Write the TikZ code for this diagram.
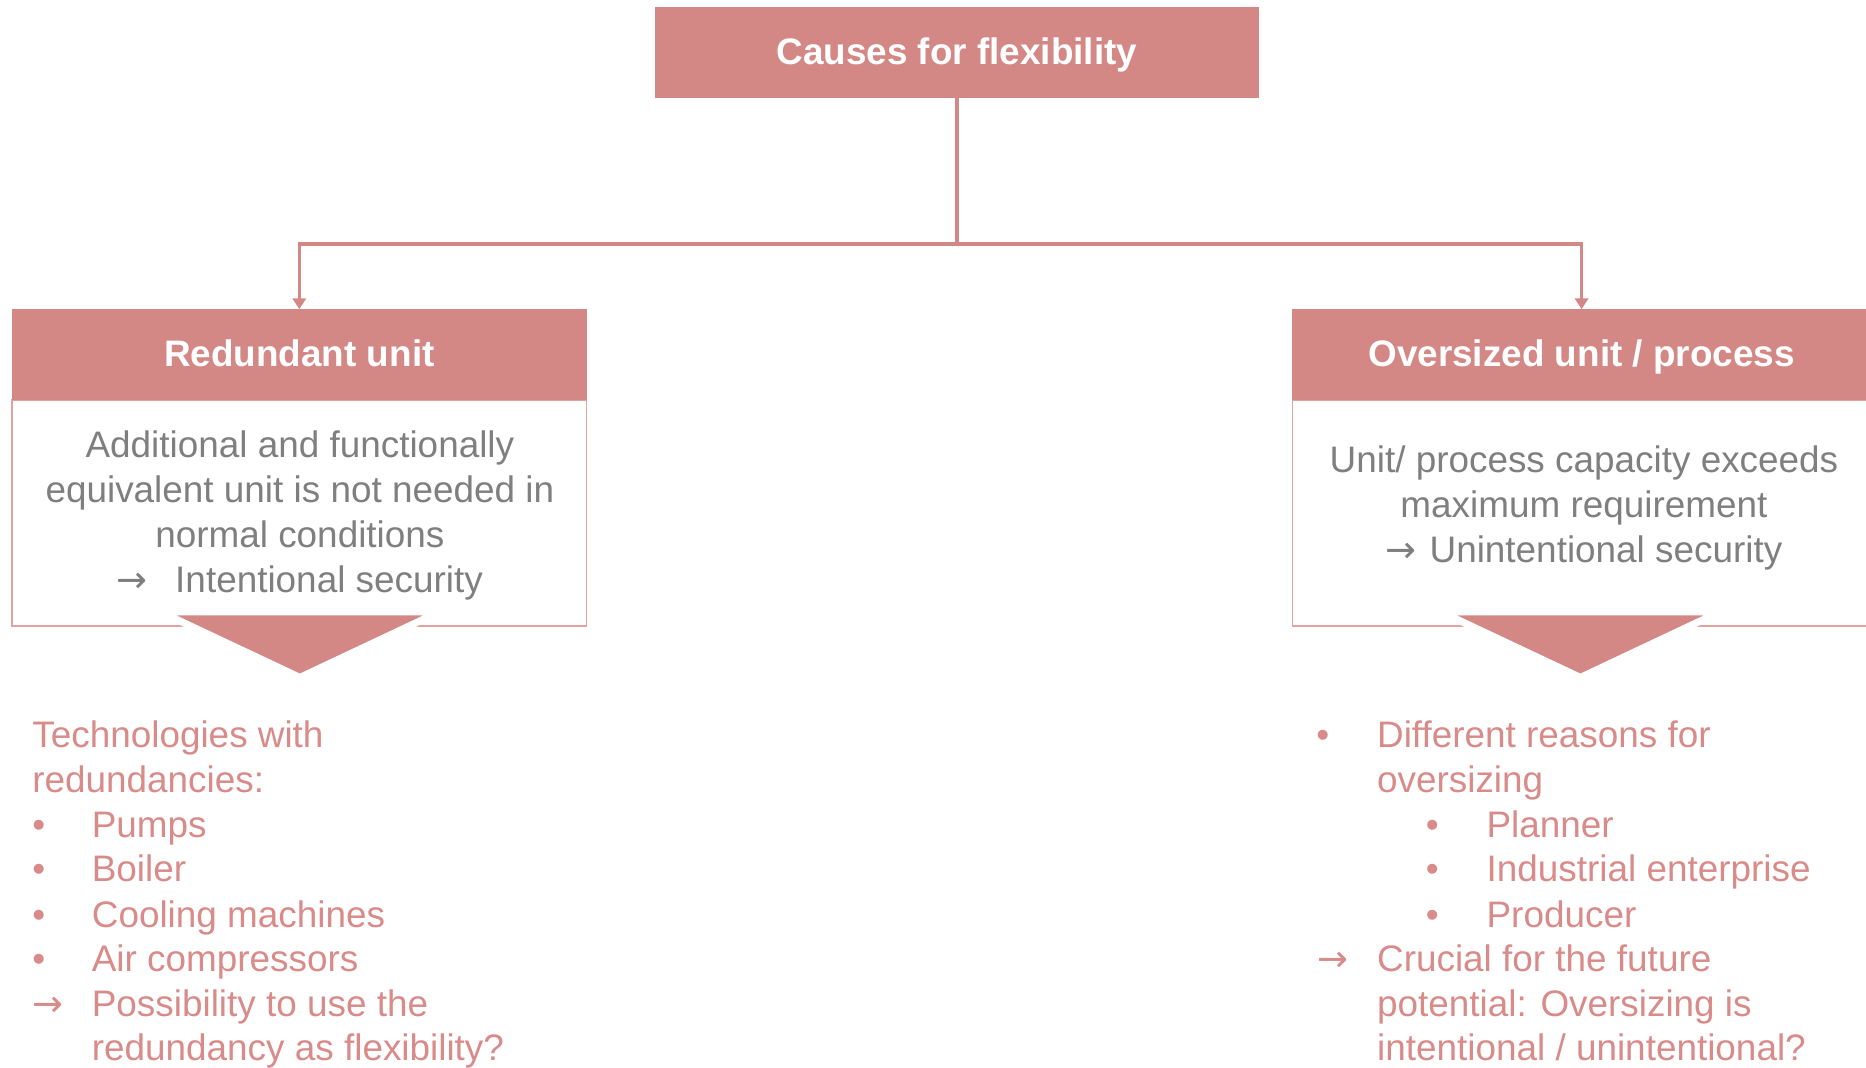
\documentclass[tikz,border=0pt]{standalone}
\usepackage{fontspec}
\setmainfont{Liberation Sans}
\newfontfamily\arrowfont{DejaVu Sans}
\newcommand{\rarr}{{\arrowfont →}}
\usetikzlibrary{arrows.meta}
\definecolor{pk}{RGB}{212,136,134}
\definecolor{pktext}{RGB}{216,139,137}
\definecolor{pkline}{RGB}{226,162,160}
\definecolor{gr}{RGB}{127,127,127}
\begin{document}
\begin{tikzpicture}[x=1pt,y=-1pt,
 head/.style={fill=pk, text=white, font=\fontsize{31}{37}\selectfont\bfseries, inner sep=0pt, minimum height=76pt, text height=25pt, text depth=5pt},
 body/.style={draw=pkline, line width=1.3pt, inner sep=0pt, minimum height=190pt},
 btext/.style={text=gr, font=\fontsize{31}{38}\selectfont, align=center, inner sep=0pt},
 conn/.style={draw=pk, line width=3pt, -{Triangle[width=11pt,length=9pt]}},
 li/.style={anchor=base west, inner sep=0pt, text=pktext, font=\fontsize{31}{38}\selectfont},
 tri/.style={fill=pk, draw=white, line width=6pt, line join=miter}
]
\useasboundingbox (0,0) rectangle (1568,897);

% boxes
\node[head, minimum width=508pt] (top) at (804,44) {Causes for flexibility};

\node[body, minimum width=483pt] (lb) at (251.5,431) {};
\node[head, minimum width=483pt] (lh) at (251.5,298) {Redundant unit};
\node[btext] (lbt) at (252,433) {Additional and functionally\\equivalent unit is not needed in\\normal conditions\\\rarr\hspace{23pt}Intentional security};

\node[body, minimum width=486pt] (rb) at (1329,431) {};
\node[head, minimum width=486pt] (rh) at (1329,298) {Oversized unit / process};
\node[btext] (rbt) at (1331,427) {Unit/ process capacity exceeds\\maximum requirement\\\rarr\hspace{11pt}Unintentional security};

% connectors
\coordinate (j) at (804,205);
\draw[conn] (top.south) -- (j) -| (lh.north);
\draw[conn] (j) -| (rh.north);

% chevrons
\draw[tri] (134.6,514) -- (369.4,514) -- (252,569.3) -- cycle;
\draw[tri] (1210.6,514) -- (1445.4,514) -- (1328,569.3) -- cycle;

% left list
\node[li] (t1) at (27,628) {Technologies with};
\node[li] (t2) at (27,666) {redundancies:};
\node[li] (lb1) at (27,704) {•}; \node[li] (t3) at (77,704) {Pumps};
\node[li] (lb2) at (27,741) {•}; \node[li] (t4) at (77,741) {Boiler};
\node[li] (lb3) at (27,779) {•}; \node[li] (t5) at (77,779) {Cooling machines};
\node[li] (lb4) at (27,816) {•}; \node[li] (t6) at (77,816) {Air compressors};
\node[li] (la1) at (27,854) {\rarr}; \node[li] (t7) at (77,854) {Possibility to use the};
\node[li] (t8) at (77,891) {redundancy as flexibility?};

% right list
\node[li] (rb1) at (1106,628) {•}; \node[li] (r1) at (1157,628) {Different reasons for};
\node[li] (r2) at (1157,666) {oversizing};
\node[li] (rb2) at (1198,704) {•}; \node[li] (r3) at (1249,704) {Planner};
\node[li] (rb3) at (1198,741) {•}; \node[li] (r4) at (1249,741) {Industrial enterprise};
\node[li] (rb4) at (1198,779) {•}; \node[li] (r5) at (1249,779) {Producer};
\node[li] (ra1) at (1107,816) {\rarr}; \node[li] (r6) at (1157,816) {Crucial for the future};
\node[li] (r7) at (1157,854) {potential: Oversizing is};
\node[li] (r8) at (1157,891) {intentional / unintentional?};
\end{tikzpicture}
\end{document}
